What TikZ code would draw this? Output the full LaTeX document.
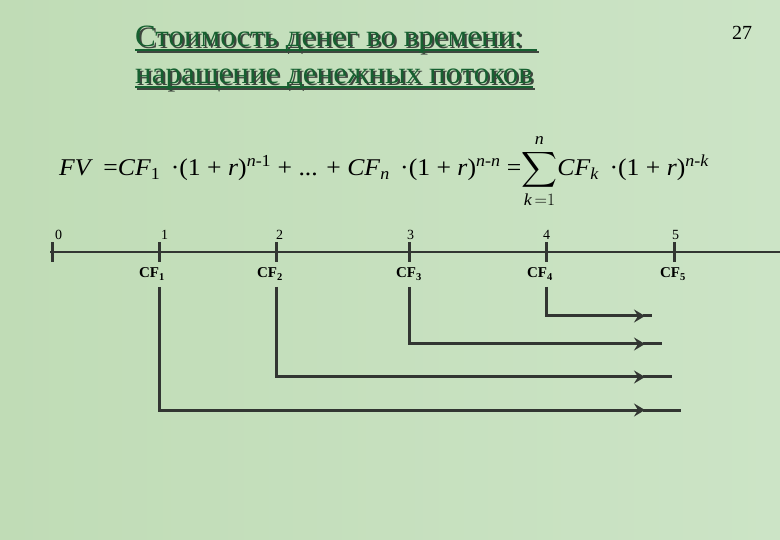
\documentclass[tikz,border=0pt]{standalone}
\usepackage{amsmath}
\usepackage{fontspec}
\setmainfont{Liberation Serif}
\newfontfamily\eqfont[FakeStretch=1.07]{Liberation Serif}
\usetikzlibrary{arrows.meta,positioning}
\definecolor{slidegreen}{RGB}{192,220,182}
\definecolor{slidelight}{RGB}{204,228,198}
\definecolor{titlegreen}{RGB}{22,96,48}
\definecolor{titleshade}{RGB}{62,70,62}
\definecolor{axisgray}{RGB}{50,54,50}
\tikzset{
  titletext/.style={anchor=base west, inner sep=0pt, text=titlegreen,
    font=\fontsize{31}{36}\selectfont},
  titleshadow/.style={titletext, text=titleshade},
  underline/.style={draw=titlegreen, line width=2pt},
  shadowline/.style={draw=titleshade, line width=2pt},
  pagenum/.style={font=\fontsize{20}{20}\selectfont, inner sep=0pt},
  formula/.style={anchor=base west, inner sep=0pt,
    font=\eqfont\fontsize{24}{28}\selectfont},
  axis/.style={draw=axisgray, line width=2.6pt},
  tickmark/.style={draw=axisgray, line width=3pt},
  ticklabel/.style={anchor=base west, inner sep=0pt,
    font=\fontsize{14}{14}\selectfont},
  cflabel/.style={anchor=base, inner sep=0pt,
    font=\bfseries\fontsize{15}{15}\selectfont},
  flow/.style={draw=axisgray, line width=3pt,
    -{Stealth[length=11pt,width=13pt,inset=4pt]}},
  flowtail/.style={draw=axisgray, line width=3pt}
}
\newcommand{\ital}[1]{\textit{#1}}

\begin{document}
\begin{tikzpicture}[x=1pt, y=-1pt]
  \fill[left color=slidegreen, right color=slidelight]
    (0,0) rectangle (780,540);
  \useasboundingbox (0,0) rectangle (780,540);

  % title with its shadow
  \node[titleshadow] (shade1) at (137,49) {Стоимость денег во времени:};
  \node[titleshadow] (shade2) at (137,86) {наращение денежных потоков};
  \draw[shadowline] ([yshift=-3pt]shade1.base west) -- ([xshift=14pt,yshift=-3pt]shade1.base east);
  \draw[shadowline] ([yshift=-3pt]shade2.base west) -- ([yshift=-3pt]shade2.base east);
  \node[titletext] (title1) at (135,47) {Стоимость денег во времени:};
  \node[titletext] (title2) at (135,84) {наращение денежных потоков};
  \draw[underline] ([yshift=-3pt]title1.base west) -- ([xshift=14pt,yshift=-3pt]title1.base east);
  \draw[underline] ([yshift=-3pt]title2.base west) -- ([yshift=-3pt]title2.base east);
  \node[pagenum] (page) at (742,33) {27};

  \node[formula] (fv) at (59,176)
    {\ital{FV}\, =\ital{CF}\textsubscript{1}\, ·(1 + \ital{r})\textsuperscript{\ital{n}-1}
     + ... + \ital{CF}\textsubscript{\ital{n}}\, ·(1 + \ital{r})\textsuperscript{\ital{n}-\ital{n}}
     =$\displaystyle\sum_{\ital{k}\,=1}^{\ital{n}}$\ital{CF}\textsubscript{\ital{k}}\,
     ·(1 + \ital{r})\textsuperscript{\ital{n}-\ital{k}}};

  % time axis
  \coordinate (start) at (50,252);
  \coordinate (end) at (780,252);
  \draw[axis] (start) -- (end);

  \coordinate (t0) at (52,252);
  \coordinate (t1) at (159,252);
  \coordinate (t2) at (276,252);
  \coordinate (t3) at (409,252);
  \coordinate (t4) at (546,252);
  \coordinate (t5) at (674,252);
  \draw[tickmark] ([yshift=-10pt]t0) -- ([yshift=10pt]t0);
  \draw[tickmark] ([yshift=-10pt]t1) -- ([yshift=10pt]t1);
  \draw[tickmark] ([yshift=-10pt]t2) -- ([yshift=10pt]t2);
  \draw[tickmark] ([yshift=-10pt]t3) -- ([yshift=10pt]t3);
  \draw[tickmark] ([yshift=-10pt]t4) -- ([yshift=10pt]t4);
  \draw[tickmark] ([yshift=-10pt]t5) -- ([yshift=10pt]t5);

  \node[ticklabel] (n0) at (55,240) {0};
  \node[ticklabel] (n1) at (161,240) {1};
  \node[ticklabel] (n2) at (276,240) {2};
  \node[ticklabel] (n3) at (407,240) {3};
  \node[ticklabel] (n4) at (543,240) {4};
  \node[ticklabel] (n5) at (672,240) {5};

  \node[cflabel] (cf1) at (152,278) {CF\textsubscript{1}};
  \node[cflabel] (cf2) at (270,278) {CF\textsubscript{2}};
  \node[cflabel] (cf3) at (409,278) {CF\textsubscript{3}};
  \node[cflabel] (cf4) at (540,278) {CF\textsubscript{4}};
  \node[cflabel] (cf5) at (673,278) {CF\textsubscript{5}};

  % compounding to the end of the period
  \coordinate (a4) at (645,316);
  \coordinate (a3) at (645,344);
  \coordinate (a2) at (645,377);
  \coordinate (a1) at (645,410);
  \coordinate (e4) at (652,316);
  \coordinate (e3) at (662,344);
  \coordinate (e2) at (672,377);
  \coordinate (e1) at (681,410);

  \draw[flow] (t4 |- 0,287) |- (a4);
  \draw[flowtail] ([xshift=-2pt]a4) -- (e4);
  \draw[flow] (t3 |- 0,287) |- (a3);
  \draw[flowtail] ([xshift=-2pt]a3) -- (e3);
  \draw[flow] (t2 |- 0,287) |- (a2);
  \draw[flowtail] ([xshift=-2pt]a2) -- (e2);
  \draw[flow] (t1 |- 0,287) |- (a1);
  \draw[flowtail] ([xshift=-2pt]a1) -- (e1);
\end{tikzpicture}
\end{document}
